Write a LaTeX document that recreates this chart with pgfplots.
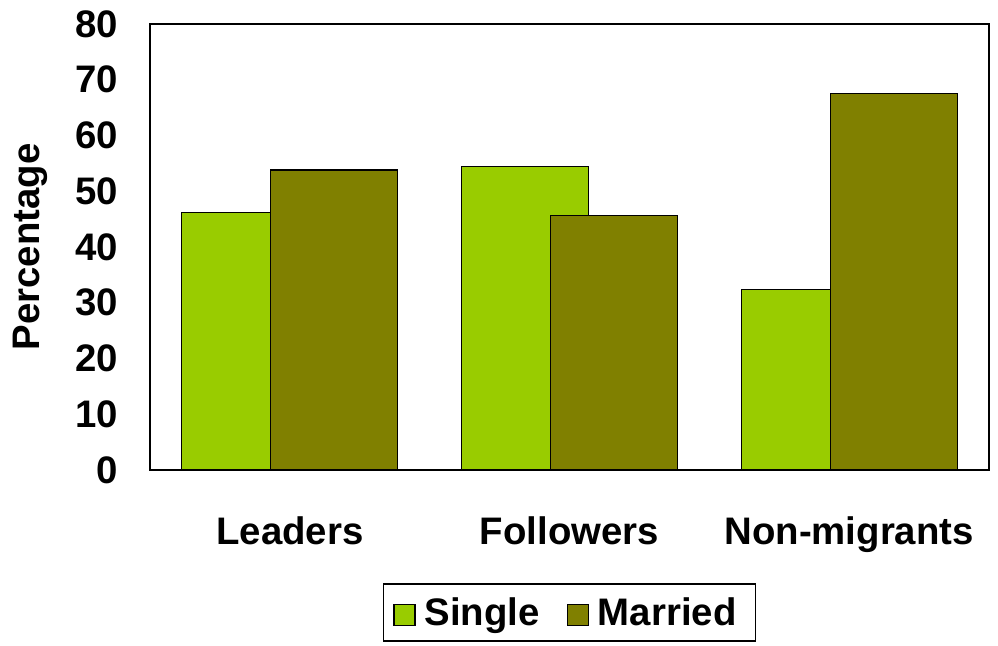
\documentclass[border=0pt]{standalone}
\usepackage{fontspec}
\setmainfont{Liberation Sans}
\usepackage{pgfplots}
\pgfplotsset{compat=1.18}
\definecolor{single}{HTML}{99CC00}
\definecolor{married}{HTML}{808000}
\begin{document}
\begin{tikzpicture}
\useasboundingbox (-150bp,-176bp) rectangle (848bp,470bp);
\begin{axis}[
  at={(0,0)}, anchor=south west,
  scale only axis, width=839bp, height=446bp,
  ybar, bar width=0.454,
  xmin=-0.5, xmax=2.5, ymin=0, ymax=80,
  ytick={0,10,...,80},
  xtick={0,1,2}, xticklabels={Leaders,Followers,Non-migrants},
  major tick length=0pt,
  axis line style={line width=1.5bp},
  font=\fontsize{38.5}{42}\selectfont\bfseries,
  /pgf/number format/assume math mode=true,
  yticklabel style={anchor=east, inner sep=0pt, xshift=-32bp},
  xticklabel style={anchor=base, inner sep=0pt, yshift=-74bp},
  ylabel={Percentage},
  ylabel style={at={(axis description cs:-0.143,0.5)}, anchor=center},
  legend columns=2,
  legend style={at={(axis description cs:0.5,0)}, anchor=north, yshift=-113bp,
    draw=black, line width=1.5bp, inner xsep=10bp, inner ysep=12bp,
    /tikz/every even column/.append style={column sep=18bp},
    nodes={inner xsep=9bp, anchor=base west}},
  legend image code/.code={\draw[#1, draw=black, line width=1.2bp] (0bp,0bp) rectangle (21bp,21bp);},
]
\addplot[fill=single, draw=black, line width=1.2bp, bar shift=-0.159] coordinates {(0,46.2) (1,54.4) (2,32.4)};
\addplot[fill=married, draw=black, line width=1.2bp, bar shift=0.159] coordinates {(0,53.8) (1,45.6) (2,67.6)};
\legend{Single,Married}
\end{axis}
\end{tikzpicture}
\end{document}
